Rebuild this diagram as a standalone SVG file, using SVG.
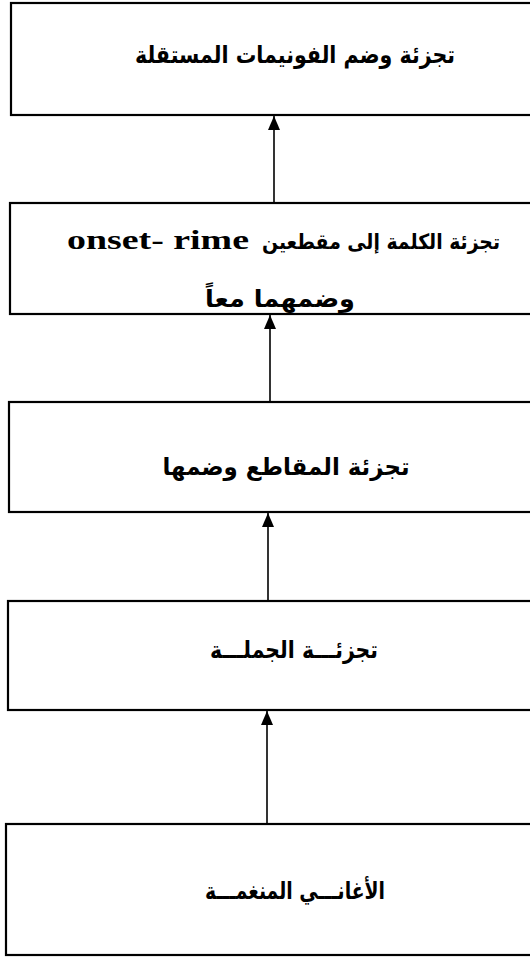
<svg xmlns="http://www.w3.org/2000/svg" width="530" height="959" viewBox="0 0 530 959">
<style>
.box{fill:#fff;stroke:#000;stroke-width:2.2}
.ar{font-family:"DejaVu Sans","Liberation Sans",sans-serif;font-weight:bold;font-size:24px;fill:#000;text-anchor:middle;direction:rtl}
.en{font-family:"Liberation Serif",serif;font-weight:bold;font-size:27px;fill:#000}
.conn{stroke:#000;stroke-width:1.6;fill:none}
</style>
<defs>
<marker id="ah" viewBox="0 0 14 12" refX="14" refY="6" markerWidth="14" markerHeight="12" markerUnits="userSpaceOnUse" orient="auto">
<path d="M0,0 L14,6 L0,12 Z" fill="#000"/>
</marker>
</defs>
<rect width="530" height="959" fill="#fff"/>
<g id="connectors">
<line class="conn" x1="274" y1="203" x2="274" y2="116" marker-end="url(#ah)"/>
<line class="conn" x1="270" y1="402" x2="270" y2="315" marker-end="url(#ah)"/>
<line class="conn" x1="268" y1="601" x2="268" y2="513" marker-end="url(#ah)"/>
<line class="conn" x1="267" y1="824" x2="267" y2="711" marker-end="url(#ah)"/>
</g>
<g id="n1">
<rect class="box" x="11" y="3" width="530" height="112"/>
<text class="ar" x="295" y="63" textLength="320" lengthAdjust="spacingAndGlyphs">تجزئة وضم الفونيمات المستقلة</text>
</g>
<g id="n2">
<rect class="box" x="10" y="203" width="530" height="111"/>
<text class="ar" x="381" y="249" style="font-size:21px" textLength="238" lengthAdjust="spacingAndGlyphs">تجزئة الكلمة إلى مقطعين</text>
<text class="en" x="67" y="249" textLength="182" lengthAdjust="spacingAndGlyphs">onset- rime</text>
<text class="ar" x="280" y="307" textLength="150" lengthAdjust="spacingAndGlyphs">وضمهما معاً</text>
</g>
<g id="n3">
<rect class="box" x="9" y="402" width="530" height="110"/>
<text class="ar" x="286" y="475" textLength="247" lengthAdjust="spacingAndGlyphs">تجزئة المقاطع وضمها</text>
</g>
<g id="n4">
<rect class="box" x="8" y="601" width="530" height="109"/>
<text class="ar" x="294" y="658" textLength="168" lengthAdjust="spacingAndGlyphs">تجزئـــة الجملـــة</text>
</g>
<g id="n5">
<rect class="box" x="6" y="824" width="530" height="131"/>
<text class="ar" x="295" y="899" textLength="180" lengthAdjust="spacingAndGlyphs">الأغانـــي المنغمـــة</text>
</g>
</svg>
